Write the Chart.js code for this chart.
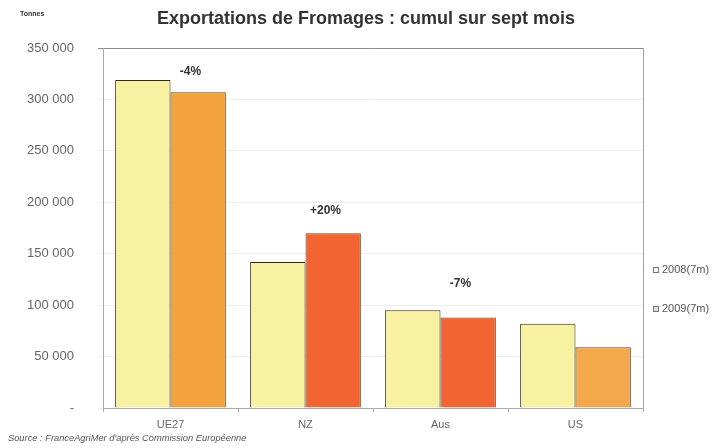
<!DOCTYPE html>
<html>
<head>
<meta charset="utf-8">
<script src="https://cdn.jsdelivr.net/npm/chart.js@4"></script>
<style>
  html,body{margin:0;padding:0;background:#fff;}
  #wrap{position:relative;width:718px;height:448px;}
</style>
</head>
<body>
<div id="wrap"><canvas id="fromages" width="718" height="448"></canvas></div>
<script>
// ===== DONNEES =====
const categories = ["UE27", "NZ", "Aus", "US"];
const seriesNames = ["2008(7m)", "2009(7m)"];
const values2008 = [319000, 142000, 95000, 82000];
const values2009 = [307000, 170000, 88000, 59000];
const colors2008 = ["#f8f1a2", "#f8f1a2", "#f8f1a2", "#f8f1a2"];
const colors2009 = ["#f2a33e", "#f26533", "#f26533", "#f3a84c"];
const changeLabels = ["-4%", "+20%", "-7%", ""];
const changeLabelValues = [327000, 192000, 121000, 0];
const yTicks = [0, 50000, 100000, 150000, 200000, 250000, 300000, 350000];

const titleText = "Exportations de Fromages : cumul sur sept mois";
const unitText = "Tonnes";
const sourceText = "Source : FranceAgriMer d'après Commission Européenne";

const FONT = "'Liberation Sans', Arial, sans-serif";

function fmt(v){
    if(v===0) return "-";
    return v.toLocaleString("en-US").replace(/,/g," ");
}

// textes, cadre, legende et pourcentages
const decorPlugin = {
    id:"decor",
    afterDraw(chart){
        const c = chart.ctx;
        const a = chart.chartArea;
        const x = chart.scales.x, y = chart.scales.y;
        c.save();

        // cadre droit
        c.strokeStyle="#a0a0a0";
        c.lineWidth=1;
        c.beginPath();
        c.moveTo(a.right+0.5,a.top);
        c.lineTo(a.right+0.5,a.bottom);
        c.stroke();

        // titre
        c.fillStyle="#333";
        c.font="bold 18px "+FONT;
        c.textAlign="center";
        c.textBaseline="middle";
        c.fillText(titleText,366,19);

        c.font="bold 7px "+FONT;
        c.textAlign="left";
        c.fillText(unitText,20,14);

        // pourcentages
        c.font="bold 12px "+FONT;
        c.textAlign="center";
        changeLabels.forEach((t,i)=>{
            if(!t) return;
            c.fillText(t,x.getPixelForValue(i)+20,y.getPixelForValue(changeLabelValues[i]));
        });

        // source
        c.font="italic 9.3px "+FONT;
        c.fillStyle="#555";
        c.textAlign="left";
        c.fillText(sourceText,8,438);

        // legende
        const legendCols = ["#fbf8e6", "#e6e0d2"];
        c.font="11px "+FONT;
        seriesNames.forEach((n,i)=>{
            const ly = 270 + i*39;
            c.fillStyle=legendCols[i];
            c.fillRect(653,ly-3,6,6);
            c.strokeStyle="#777";
            c.strokeRect(653.5,ly-2.5,5,5);
            c.fillStyle="#555";
            c.fillText(n,662,ly);
        });
        c.restore();
    }
};

new Chart(document.getElementById("fromages"),{
    type:"bar",
    data:{
        labels:categories,
        datasets:[
            {label:seriesNames[0],data:values2008,backgroundColor:colors2008,borderColor:"#2e2a1c",borderWidth:1},
            {label:seriesNames[1],data:values2009,backgroundColor:colors2009,borderColor:"#6e4120",borderWidth:1}
        ]
    },
    options:{
        responsive:false,
        animation:false,
        devicePixelRatio:1,
        layout:{padding:{top:48,right:75,left:0,bottom:0}},
        datasets:{bar:{categoryPercentage:0.82,barPercentage:1}},
        plugins:{legend:{display:false},title:{display:false},tooltip:{enabled:false}},
        scales:{
            x:{
                grid:{display:true,drawOnChartArea:false,offset:true,tickLength:4,color:"#aaa"},
                border:{color:"#aaa"},
                ticks:{color:"#666",font:{family:FONT,size:11},padding:6},
                afterFit(s){s.height=40;}
            },
            y:{
                min:0,max:350000,
                afterBuildTicks(s){s.ticks=yTicks.map(v=>({value:v}));},
                grid:{color:(ctx)=>ctx.tick && ctx.tick.value===350000 ? "#8a8a8a" : "#eeeeee",tickLength:5},
                border:{color:"#aaa"},
                ticks:{color:"#666",font:{family:FONT,size:13},padding:24,callback:v=>fmt(v)},
                afterFit(s){s.width=103;}
            }
        }
    },
    plugins:[decorPlugin]
});
</script>
</body>
</html>
